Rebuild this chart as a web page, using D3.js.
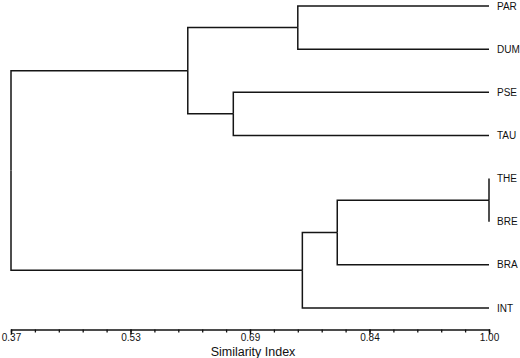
<!DOCTYPE html>
<html>
<head>
<meta charset="utf-8">
<script src="https://cdn.jsdelivr.net/npm/d3@7"></script>
<style>
  body { margin: 0; background: #fff; }
  svg { display: block; }
</style>
</head>
<body>
<div id="chart"></div>
<script>
// Tree of the dendrogram: ids, parents and the similarity at which each node joins
const ids = ["root", "top", "parDum", "pseTau", "bottom", "braGroup", "theBre",
    "PAR", "DUM", "PSE", "TAU", "THE", "BRE", "BRA", "INT"];
const parentIds = ["", "root", "top", "top", "root", "bottom", "braGroup",
    "parDum", "parDum", "pseTau", "pseTau", "theBre", "theBre", "braGroup", "bottom"];
const similarity = [0.37, 0.603, 0.748, 0.663, 0.754, 0.80, 1.00,
    1.00, 1.00, 1.00, 1.00, 1.00, 1.00, 1.00, 1.00];

// Leaf order (top to bottom)
const leafNames = ["PAR", "DUM", "PSE", "TAU", "THE", "BRE", "BRA", "INT"];

// Axis ticks
const majorTicks = [0.37, 0.5275, 0.685, 0.8425, 1.00];
const tickLabels = ["0.37", "0.53", "0.69", "0.84", "1.00"];
const minorStep = 0.0315;

const width = 520, height = 358;

const svg = d3.select("#chart")
    .append("svg")
    .attr("width", width)
    .attr("height", height)
    .style("font-family", "'Liberation Sans', Arial, sans-serif");

// Scales
const x = d3.scaleLinear()
    .domain([0.37, 1.00])
    .range([11, 489]);

const yLeaf = d3.scalePoint()
    .domain(leafNames)
    .range([6, 308]);

// Build hierarchy
const table = ids.map((id, i) => ({ id: id, parentId: parentIds[i] || null, sim: similarity[i] }));
const root = d3.stratify()
    .id(d => d.id)
    .parentId(d => d.parentId)(table);

// y of leaves from scale, internal nodes at middle of children
root.eachAfter(function (node) {
    if (node.children) {
        node.py = d3.mean(node.children, c => c.py);
    } else {
        node.py = yLeaf(node.id);
    }
    node.px = x(node.data.sim);
});

// Elbow links
svg.append("g")
    .selectAll("path")
    .data(root.links())
    .join("path")
    .attr("fill", "none")
    .attr("stroke", "#151515")
    .attr("stroke-width", 1.5)
    .attr("d", d => `M${d.source.px},${d.source.py}V${d.target.py}H${d.target.px}`);

// Leaf labels
svg.append("g")
    .selectAll("text")
    .data(root.leaves())
    .join("text")
    .attr("x", d => d.px + 8)
    .attr("y", d => d.py)
    .attr("dy", "0.35em")
    .style("font-size", "10px")
    .style("fill", "#111")
    .text(d => d.id);

// X axis
const axisY = 329.5;
const minorTicks = d3.range(0, 21).map(i => 0.37 + i * minorStep);

svg.append("g")
    .attr("transform", `translate(0,${axisY})`)
    .call(d3.axisBottom(x).tickValues(minorTicks).tickSize(3).tickFormat(""))
    .call(g => g.select(".domain").attr("stroke", "#111").attr("stroke-width", 1.3))
    .call(g => g.selectAll(".tick line").attr("stroke", "#111").attr("stroke-width", 1.3));

svg.append("g")
    .attr("transform", `translate(0,${axisY})`)
    .call(d3.axisBottom(x).tickValues(majorTicks).tickSize(5)
        .tickFormat((d, i) => tickLabels[i]).tickPadding(-0.5))
    .call(g => g.select(".domain").remove())
    .call(g => g.selectAll(".tick line").attr("stroke", "#111").attr("stroke-width", 1.3))
    .call(g => g.selectAll(".tick text")
        .style("font-family", "'Liberation Sans', Arial, sans-serif")
        .style("font-size", "10px")
        .attr("fill", "#111"));

// Axis title
svg.append("text")
    .attr("x", (x.range()[0] + x.range()[1]) / 2 + 3)
    .attr("y", 356)
    .attr("text-anchor", "middle")
    .style("font-size", "12.5px")
    .style("fill", "#111")
    .text("Similarity Index");
</script>
</body>
</html>
